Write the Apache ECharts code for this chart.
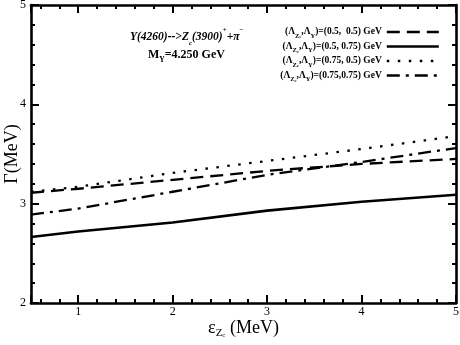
<!DOCTYPE html>
<html>
<head>
<meta charset="utf-8">
<script src="https://cdn.jsdelivr.net/npm/echarts@6/dist/echarts.min.js"></script>
<style>
  html, body { margin: 0; padding: 0; background: #fff; }
  #main { width: 460px; height: 345px; }
</style>
</head>
<body>
<div id="main"></div>
<script>
// x: binding energy of Zc (MeV), y: width (MeV)
const eps = [0.5, 1, 2, 3, 4, 5];
const g_05_05 = [3.11, 3.15, 3.24, 3.33, 3.40, 3.45];
const g_05_075 = [2.665, 2.72, 2.81, 2.93, 3.02, 3.09];
const g_075_05 = [3.12, 3.17, 3.31, 3.43, 3.55, 3.68];
const g_075_075 = [2.89, 2.95, 3.12, 3.29, 3.42, 3.56];
const names = ['(0.5,  0.5)', '(0.5, 0.75)', '(0.75, 0.5)', '(0.75,0.75)'];
const xTicks = [1, 2, 3, 4, 5];
const yTicks = [2, 3, 4, 5];

const serif = 'Liberation Serif';
const chart = echarts.init(document.getElementById('main'));

function pairs(ys) {
  return eps.map((x, i) => [x, ys[i]]);
}

const dashes = [
  [13, 7],
  null,
  [2.5, 8.5],
  [13, 6, 3, 6]
];
const allData = [g_05_05, g_05_075, g_075_05, g_075_075];

const series = names.map((n, i) => ({
  name: n,
  type: 'line',
  data: pairs(allData[i]),
  symbol: 'none',
  smooth: false,
  lineStyle: {
    color: '#000',
    width: i === 1 ? 2.6 : 2.3,
    type: dashes[i] || 'solid',
    cap: 'butt'
  },
  itemStyle: { color: '#000' }
}));

const axisCommon = {
  axisLine: { show: true, onZero: false, lineStyle: { color: '#000', width: 2.6 } },
  axisTick: { show: true, inside: true, length: 8, lineStyle: { color: '#000', width: 2 } },
  minorTick: { show: true, splitNumber: 5, length: 4, lineStyle: { color: '#000', width: 2 } },
  splitLine: { show: false }
};

const subRich = {
  b: { fontFamily: serif, fontWeight: 'bold', fontSize: 9.5, color: '#000', lineHeight: 15 },
  s: { fontFamily: serif, fontWeight: 'bold', fontSize: 6.5, color: '#000', verticalAlign: 'bottom', lineHeight: 12 },
  ss: { fontFamily: serif, fontWeight: 'bold', fontSize: 4.5, color: '#000', verticalAlign: 'bottom', lineHeight: 9 }
};

chart.setOption({
  animation: false,
  backgroundColor: '#fff',
  grid: { left: 31, right: 4, top: 5, bottom: 42, outerBoundsMode: 'none', containLabel: false },
  title: [
    {
      text: '{i|Y(4260)-->Z}{s|c}{i|(3900)}{p|+}{i|+π}{p|−}',
      left: 130, top: 27, padding: 0,
      textStyle: {
        rich: {
          i: { fontFamily: serif, fontStyle: 'italic', fontWeight: 'bold', fontSize: 11.5, color: '#000', lineHeight: 18 },
          s: { fontFamily: serif, fontStyle: 'italic', fontSize: 7, color: '#000', verticalAlign: 'bottom', lineHeight: 15 },
          p: { fontFamily: serif, fontWeight: 'bold', fontSize: 7, color: '#000', verticalAlign: 'top', lineHeight: 20 }
        }
      }
    },
    {
      text: '{b|M}{s|Y}{b|=4.250 GeV}',
      left: 148, top: 46, padding: 0,
      textStyle: {
        rich: {
          b: { fontFamily: serif, fontWeight: 'bold', fontSize: 12, color: '#000', lineHeight: 18 },
          s: { fontFamily: serif, fontWeight: 'bold', fontSize: 7.5, color: '#000', verticalAlign: 'bottom', lineHeight: 15 }
        }
      }
    }
  ],
  legend: {
    orient: 'vertical',
    right: 20, top: 27, padding: 0,
    align: 'right',
    itemWidth: 52, itemHeight: 10, itemGap: 2,
    data: names,
    itemStyle: { opacity: 0 },
    lineStyle: { width: 2.4 },
    formatter: n => '{b|(Λ}{s|Z}{ss|c}{b|,Λ}{s|Y}{b|)=' + n + ' GeV}',
    textStyle: { rich: subRich }
  },
  xAxis: [
    Object.assign({}, axisCommon, {
      type: 'value', min: 0.5, max: 5, position: 'bottom',
      name: '{e|ε}{z|Z}{c|c}{n| (MeV)}',
      nameLocation: 'middle', nameGap: 14, nameMoveOverlap: false,
      nameTextStyle: {
        rich: {
          e: { fontFamily: serif, fontSize: 18, color: '#000', lineHeight: 22 },
          z: { fontFamily: serif, fontSize: 11, color: '#000', verticalAlign: 'bottom', lineHeight: 16 },
          c: { fontFamily: serif, fontSize: 7, color: '#000', verticalAlign: 'bottom', lineHeight: 10 },
          n: { fontFamily: serif, fontSize: 18, color: '#000', lineHeight: 22 }
        }
      },
      axisLabel: {
        showMinLabel: false,
        margin: 3,
        fontFamily: serif, fontSize: 12, color: '#000',
        formatter: v => (xTicks.indexOf(v) >= 0 ? String(v) : '')
      }
    }),
    Object.assign({}, axisCommon, {
      type: 'value', min: 0.5, max: 5, position: 'top',
      axisLabel: { show: false }
    })
  ],
  yAxis: [
    Object.assign({}, axisCommon, {
      type: 'value', min: 2, max: 5, interval: 1, position: 'left',
      name: 'Γ(MeV)', nameLocation: 'middle', nameGap: 10, nameMoveOverlap: false,
      nameTextStyle: { fontFamily: serif, fontSize: 18, color: '#000' },
      axisLabel: {
        margin: 5,
        fontFamily: serif, fontSize: 12, color: '#000',
        formatter: v => (yTicks.indexOf(v) >= 0 ? String(v) : '')
      }
    }),
    Object.assign({}, axisCommon, {
      type: 'value', min: 2, max: 5, interval: 1, position: 'right',
      axisLabel: { show: false }
    })
  ],
  series: series
});
</script>
</body>
</html>
